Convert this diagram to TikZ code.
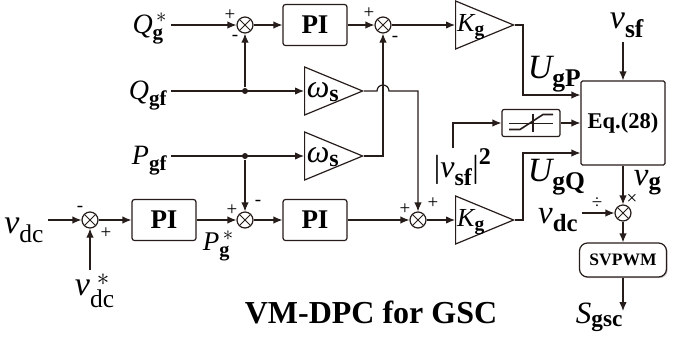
\documentclass[tikz,border=0pt]{standalone}
\usepackage{amsmath}
\usepackage{fontspec}
\setmainfont{Liberation Serif}
\usetikzlibrary{calc,positioning,arrows.meta,shapes.geometric,shadows}
\definecolor{linecol}{RGB}{38,28,26}
\newcommand{\fsz}[1]{\fontsize{#1}{#1}\selectfont}
\def\defaultscriptratio{.75}

\begin{document}
\begin{tikzpicture}[x=1pt, y=-1pt, line width=1.2pt, color=linecol,
  >={Latex[length=9pt,width=7.5pt]},
  every node/.append style={text=black},
  sumnode/.style={circle, draw, minimum size=16pt, inner sep=0pt,
    path picture={\draw[line width=0.9pt]
      (path picture bounding box.north west) -- (path picture bounding box.south east)
      (path picture bounding box.north east) -- (path picture bounding box.south west);}},
  piblock/.style={draw, rounded corners=2.5pt, minimum width=64pt, minimum height=41pt,
    font=\bfseries\fsz{27}},
  gainbox/.style={draw, isosceles triangle, isosceles triangle stretches,
    minimum width=48pt, minimum height=58pt, inner sep=0pt, anchor=west},
  jdot/.style={circle, fill=linecol, minimum size=6pt, inner sep=0pt},
  sgn/.style={font=\fsz{19}, inner sep=0pt}]
  \useasboundingbox (0,0) rectangle (686,341);

  % reactive power loop
  \node[anchor=base east, font=\fsz{28}] (Qref) at (171,33) {$\textit{Q}_{\textbf{g}}^{\,*}$};
  \node[anchor=base east, font=\fsz{28}] (Qgf) at (171,99) {$\textit{Q}_{\textbf{gf}}$};
  \node[anchor=base east, font=\fsz{28}] (Pgf) at (171,164) {$\textit{P}_{\textbf{gf}}$};
  \node[sumnode] (sQ) at (245,25) {};
  \node[piblock] (piQ) at (315,25) {PI};
  \node[sumnode] (sQd) at (383,25) {};
  \node[gainbox] (kP) at (455,25) {};
  \node[font=\fsz{26}] (kPt) at (471,27) {$\textit{K}_{\textbf{g}}$};
  \node[gainbox] (wQ) at (304,91) {};
  \node[font=\fsz{32}] (wQt) at (323,92) {$\textit{ω}_{\textbf{s}}$};
  \node[gainbox] (wP) at (304,156) {};
  \node[font=\fsz{32}] (wPt) at (323,157) {$\textit{ω}_{\textbf{s}}$};
  \node[jdot] (jQ) at (245,91) {};
  \node[jdot] (jP) at (245,156) {};

  % dc voltage and active power loop
  \node[anchor=base east, font=\fsz{34}] (vdc) at (48,233) {$\textit{v}_{\textrm{dc}}$};
  \node[anchor=base west, font=\fsz{34}] (vdcref) at (71,295) {$\textit{v}_{\textrm{dc}}^{\;*}$};
  \node[sumnode] (sV) at (90,220) {};
  \node[piblock] (piV) at (164,220) {PI};
  \node[anchor=base west, font=\fsz{27}] (Pref) at (199,250) {$\textit{P}_{\textbf{g}}^{\,*}$};
  \node[sumnode] (sP) at (245,220) {};
  \node[piblock] (piP) at (315,220) {PI};
  \node[sumnode] (sPd) at (418,220) {};
  \node[gainbox] (kQ) at (455,220) {};
  \node[font=\fsz{26}] (kQt) at (471,222) {$\textit{K}_{\textbf{g}}$};

  % modulation side
  \node[draw, rounded corners=1.5pt, minimum width=84pt, minimum height=84pt,
    font=\bfseries\fsz{22.5}] (eq) at (623,123) {Eq.(28)};
  \node[draw, rounded corners=2pt, minimum width=58pt, minimum height=27pt] (sat) at (531,123) {};
  \node[anchor=base west, font=\fsz{34}] (vsf) at (606,28) {$\textit{v}_{\textbf{sf}}$};
  \node[anchor=base west, font=\fsz{34}] (UgP) at (524,78) {$\textit{U}_{\textbf{gP}}$};
  \node[anchor=base west, font=\fsz{34}] (UgQ) at (524,181) {$\textit{U}_{\textbf{gQ}}$};
  \node[anchor=base west, font=\fsz{32}] (vsq) at (430,177) {$\textrm{|}\textit{v}_{\textbf{sf}}\textrm{|}^{\textbf{2}}$};
  \node[sumnode] (sG) at (623,213) {};
  \node[anchor=base west, font=\fsz{33}] (vg) at (630,185) {$\textit{v}_{\textbf{g}}$};
  \node[anchor=base east, font=\fsz{33}] (vdcR) at (582,223) {$\textit{v}_{\textbf{dc}}$};
  \node[draw, fill=white, rounded corners=8pt, minimum width=87pt, minimum height=34pt,
    font=\bfseries\fsz{17.5},
    drop shadow={shadow xshift=1.2pt, shadow yshift=-1.2pt, opacity=0.4}] (pwm) at (623,260) {SVPWM};
  \node[anchor=base west, font=\fsz{31}] (Sgsc) at (572,323) {$\textit{S}_{\textbf{gsc}}$};
  \node[font=\bfseries\fsz{32}] (ttl) at (371,312) {VM-DPC for GSC};
  \coordinate (uP) at (523,95);
  \coordinate (uQ) at (523,153);
  \coordinate (vsqtop) at (453,148);
  \coordinate (sout) at (623,311);

  % saturation symbol
  \begin{scope}[shift={(sat.center)}, line width=1.6pt]
    \draw (-22,0.5) -- (22,0.5);
    \draw (2,-9.5) -- (2,8.5);
    \draw (-22,6.5) -- (-11,6.5) -- (12,-8.5) -- (22,-8.5);
  \end{scope}

  % signs
  \foreach \x/\y/\s [count=\i] in {230/15/+, 235/38/-, 369/13/+, 395/39/-, 80/209/-, 106/233/+,
      232/210/+, 258/203/-, 405/209/+, 433/203/+, 597/203/÷, 632/199/×}
    \node[sgn] (sg\i) at (\x,\y) {\s};

  % connections
  \draw[->] (sQ.west -| Qref.east) -- (sQ.west);
  \draw[->] (sQ.east) -- (piQ.west);
  \draw[->] (piQ.east) -- (sQd.west);
  \draw[->] (sQd.east) -- (kP.west);
  \draw[->] (wQ.west -| Qgf.east) -- (wQ.west);
  \draw[->] (jQ) -- (sQ.south);
  \draw[->] (wP.west -| Pgf.east) -- (wP.west);
  \draw[->] (jP) -- (sP.north);
  \draw[->] (wQ.east) -- ($(wQ.east -| sQd)+(-6,0)$) arc[start angle=180, end angle=0, radius=6pt] -| (sPd.north);
  \draw[->] (wP.east) -| (sQd.south);
  \draw[->] (sV.west -| vdc.east) -- (sV.west);
  \draw[->] (vdcref.north -| sV) -- (sV.south);
  \draw[->] (sV.east) -- (piV.west);
  \draw[->] (piV.east) -- (sP.west);
  \draw[->] (sP.east) -- (piP.west);
  \draw[->] (piP.east) -- (sPd.west);
  \draw[->] (sPd.east) -- (kQ.west);
  \draw[->] (kP.east) -- (kP.east -| uP) |- (eq.west |- uP);
  \draw[->] (kQ.east) -- (kQ.east -| uQ) |- (eq.west |- uQ);
  \draw[->] (vsqtop) |- (sat.west);
  \draw[->] (sat.east) -- (sat.east -| eq.west);
  \draw[->] (vsf.south -| eq.north) -- (eq.north);
  \draw[->] (eq.south) -- (sG.north);
  \draw[->] (sG.west -| vdcR.east) -- (sG.west);
  \draw[->] (sG.south) -- (pwm.north);
  \draw[->] (pwm.south) -- (sout);
\end{tikzpicture}
\end{document}
